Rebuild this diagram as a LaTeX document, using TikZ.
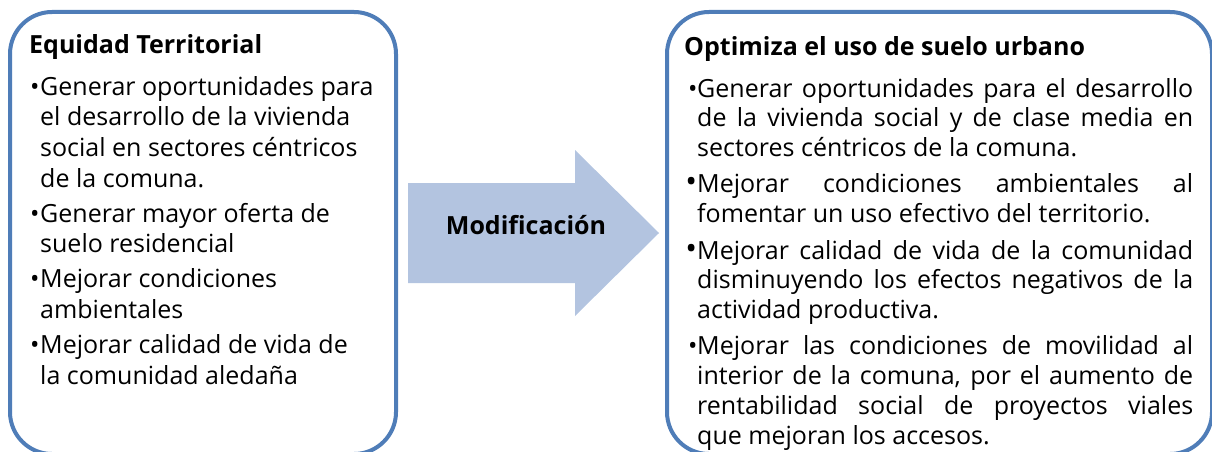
\documentclass[tikz,border=0pt]{standalone}
\usepackage{fontspec}
\setmainfont{Open Sans}
\definecolor{boxblue}{HTML}{4F7DB8}
\definecolor{arrowfill}{HTML}{B3C4E0}
\newcommand\bodyfont{\fontsize{25}{30.7}\selectfont}
\begin{document}
\begin{tikzpicture}[x=1pt,y=-1pt,
  panel/.style={draw=boxblue, line width=4pt, rounded corners=42pt, fill=white, anchor=north west, inner sep=0pt},
  ttl/.style={anchor=base west, inner sep=0pt, font=\fontsize{25}{30}\selectfont\bfseries},
  bodytext/.style={anchor=base west, inner sep=0pt},
  arrowshape/.style={fill=arrowfill, draw=none}]
\useasboundingbox (0,0) rectangle (1212,452);
\clip (0,0) rectangle (1212,452);
\node[panel, minimum width=386pt, minimum height=442pt] (left) at (8,10) {};
\node[panel, minimum width=545pt, minimum height=442pt] (right) at (665,10) {};
\fill[arrowshape] (408,183) -- (575,183) -- (575,150) -- (659,233) -- (575,316) -- (575,283) -- (408,283) -- cycle;
\node[anchor=base, inner sep=0pt, font=\fontsize{25}{30}\selectfont\bfseries] (mod) at (526,234) {Modificación};
\node[ttl] (lt) at (29,54) {Equidad Territorial};
\node[ttl] (rt) at (684,56) {Optimiza el uso de suelo urbano};
\node[bodytext] (lb) at (30,95) {\begin{minipage}[t]{375pt}\raggedright\bodyfont\parskip=4.3pt
\hangindent=10pt\hangafter=1\noindent\makebox[10pt][l]{\textbullet}Generar oportunidades para\newline el desarrollo de la vivienda\newline social en sectores céntricos\newline de la comuna.\par
\hangindent=10pt\hangafter=1\noindent\makebox[10pt][l]{\textbullet}Generar mayor oferta de\newline suelo residencial\par
\hangindent=10pt\hangafter=1\noindent\makebox[10pt][l]{\textbullet}Mejorar condiciones\newline ambientales\par
\hangindent=10pt\hangafter=1\noindent\makebox[10pt][l]{\textbullet}Mejorar calidad de vida de\newline la comunidad aledaña\par
\end{minipage}};
\node[bodytext] (rb) at (688,97) {\begin{minipage}[t]{505pt}\fontsize{25}{29.8}\selectfont\parskip=6.5pt
\hangindent=9pt\hangafter=1\noindent\makebox[9pt][l]{\textbullet}Generar oportunidades para el desarrollo\linebreak de la vivienda social y de clase media en\linebreak sectores céntricos de la comuna.\par
\hangindent=9pt\hangafter=1\noindent\makebox[9pt][r]{\scalebox{1.25}{\textbullet}}Mejorar condiciones ambientales al\linebreak fomentar un uso efectivo del territorio.\par
\hangindent=9pt\hangafter=1\noindent\makebox[9pt][r]{\scalebox{1.25}{\textbullet}}Mejorar calidad de vida de la comunidad\linebreak disminuyendo los efectos negativos de la\linebreak actividad productiva.\par
\hangindent=9pt\hangafter=1\noindent\makebox[9pt][l]{\textbullet}Mejorar las condiciones de movilidad al\linebreak interior de la comuna, por el aumento de\linebreak rentabilidad social de proyectos viales\linebreak que mejoran los accesos.\par
\end{minipage}};
\end{tikzpicture}
\end{document}
